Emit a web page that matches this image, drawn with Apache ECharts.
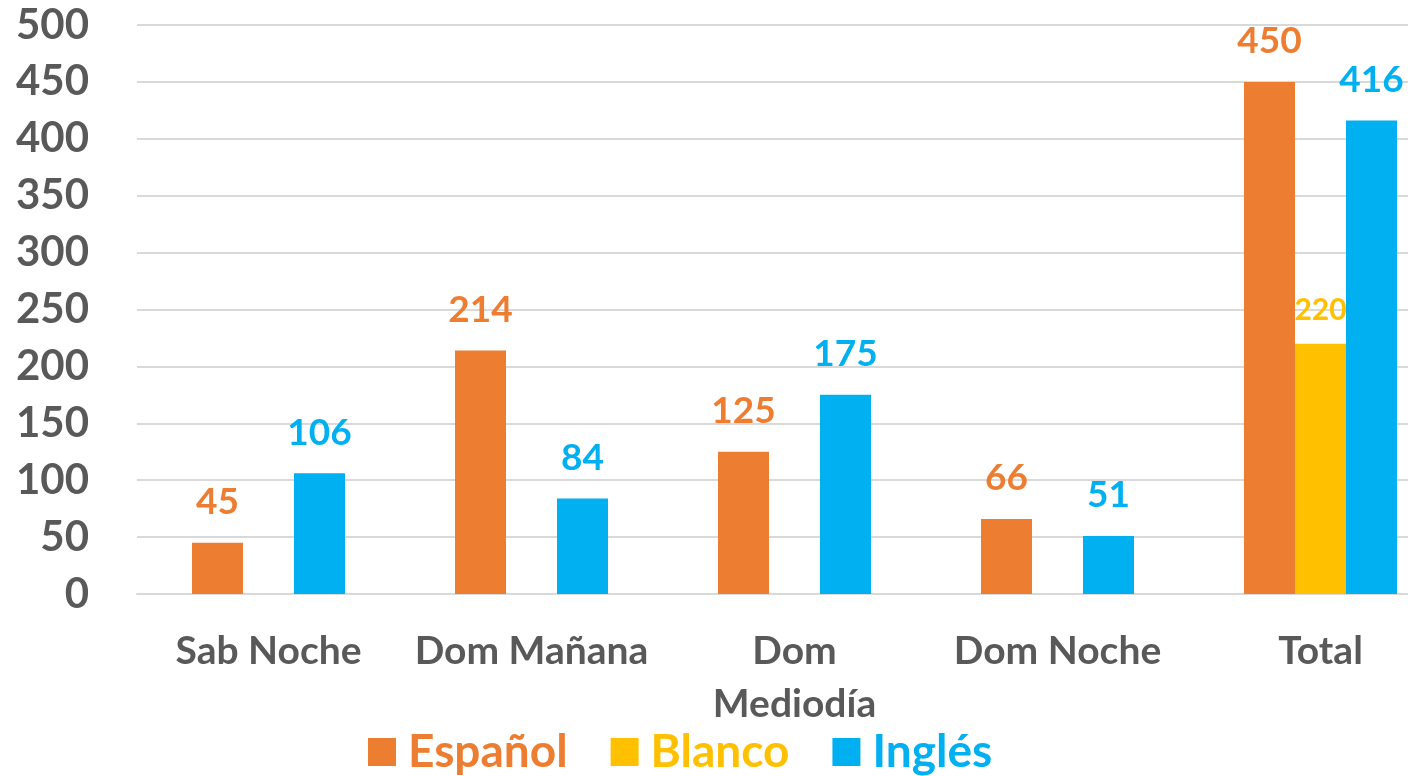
<!DOCTYPE html>
<html>
<head>
<meta charset="utf-8">
<script src="https://cdn.jsdelivr.net/npm/echarts@6/dist/echarts.min.js"></script>
<style>
  html, body { margin: 0; padding: 0; background: #fff; }
  #chart { width: 1408px; height: 776px; }
</style>
</head>
<body>
<div id="chart"></div>
<script>
  // datos
  var categorias = ['Sab Noche', 'Dom Mañana', 'Dom Mediodía', 'Dom Noche', 'Total'];
  var espanol = [45, 214, 125, 66, 450];
  var blanco = [null, null, null, null, 220];
  var ingles = [106, 84, 175, 51, 416];
  var ticksY = [0, 50, 100, 150, 200, 250, 300, 350, 400, 450, 500];

  var gris = '#595959';
  var fuente = 'Lato';

  var myChart = echarts.init(document.getElementById('chart'));

  function etiqueta(color, size, dist) {
    return {
      show: true,
      position: 'top',
      distance: dist,
      color: color,
      fontFamily: fuente,
      fontWeight: 'bold',
      fontSize: size
    };
  }

  var option = {
    animation: false,
    // el área del gráfico se sale por la derecha (como en el original)
    grid: { left: 137, top: 25, width: 1315, height: 569, outerBoundsMode: 'none' },
    legend: {
      left: 363,
      top: 724,
      itemWidth: 28,
      itemHeight: 28,
      itemGap: 43,
      icon: 'rect',
      textStyle: { fontFamily: fuente, fontWeight: 'bold', fontSize: 46, padding: [0, 0, 0, 7] },
      data: [
        { name: 'Español', textStyle: { color: '#ED7D31' } },
        { name: 'Blanco', textStyle: { color: '#FFC000' } },
        { name: 'Inglés', textStyle: { color: '#00B0F0' } }
      ]
    },
    xAxis: {
      type: 'category',
      data: categorias,
      axisTick: { show: false },
      axisLine: { lineStyle: { color: '#D9D9D9', width: 2 } },
      axisLabel: {
        interval: 0,
        margin: 31,
        color: gris,
        fontFamily: fuente,
        fontWeight: 'bold',
        fontSize: 39,
        lineHeight: 53,
        formatter: function (v) { return v === 'Dom Mediodía' ? 'Dom\nMediodía' : v; }
      }
    },
    yAxis: {
      type: 'value',
      min: ticksY[0],
      max: ticksY[ticksY.length - 1],
      interval: 50,
      axisLine: { show: false },
      axisTick: { show: false },
      splitLine: { lineStyle: { color: '#D9D9D9', width: 2 } },
      axisLabel: {
        margin: 48,
        color: gris,
        fontFamily: fuente,
        fontWeight: 'bold',
        fontSize: 42
      }
    },
    series: [
      { name: 'Español', type: 'bar', data: espanol, barWidth: 51, barGap: '0%',
        itemStyle: { color: '#ED7D31' }, label: etiqueta('#ED7D31', 37, 22) },
      { name: 'Blanco', type: 'bar', data: blanco, barWidth: 51, barGap: '0%',
        itemStyle: { color: '#FFC000' }, label: etiqueta('#FFC000', 30, 18) },
      { name: 'Inglés', type: 'bar', data: ingles, barWidth: 51, barGap: '0%',
        itemStyle: { color: '#00B0F0' }, label: etiqueta('#00B0F0', 37, 22) }
    ]
  };
  myChart.setOption(option);
</script>
</body>
</html>
